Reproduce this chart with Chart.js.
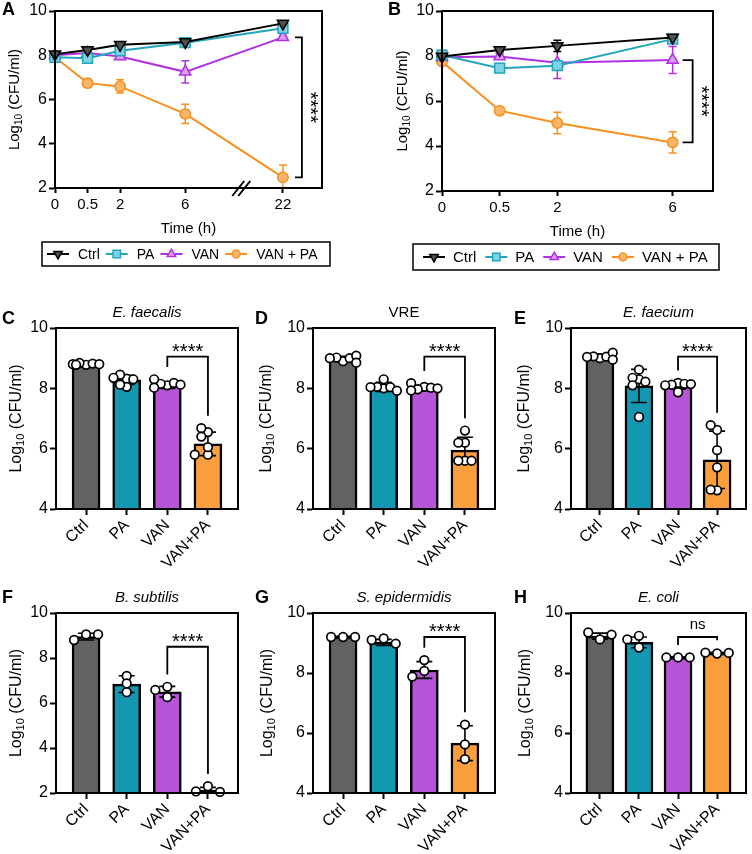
<!DOCTYPE html>
<html>
<head>
<meta charset="utf-8">
<script src="https://cdn.jsdelivr.net/npm/chart.js@4.4.1/dist/chart.umd.min.js"></script>
<style>
html, body { margin: 0; padding: 0; background: #fff; }
#wrap { position: relative; width: 752px; height: 854px; overflow: hidden; }
#wrap canvas { position: absolute; left: 0; top: 0; }
</style>
</head>
<body>
<div id="wrap"></div>
<script>
// ---- time-kill curves ----
const seriesNames = ['Ctrl', 'PA', 'VAN', 'VAN + PA'];

const timeLabelsA = ['0', '0.5', '2', '6', '22'];
const timeSlotsA = [0, 1, 2, 4, 7];   // order on the broken time axis
const ctrlA = [8.05, 8.24, 8.47, 8.6, 9.44];
const paA   = [7.91, 7.86, 8.2, 8.57, 9.22];
const vanA  = [8.0, 8.1, 7.94, 7.25, 8.81];
const vpA   = [7.91, 6.74, 6.59, 5.35, 2.48];
const ctrlAErr = [0.05, 0.08, 0.08, 0.06, 0.08];
const paAErr   = [0.06, 0.08, 0.1, 0.06, 0.08];
const vanAErr  = [0.05, 0.05, 0.12, 0.5, 0.08];
const vpAErr   = [0.06, 0.2, 0.3, 0.44, 0.56];

const timeLabelsB = ['0', '0.5', '2', '6'];
const timeSlotsB = [0, 1, 2, 4];
const ctrlB = [7.98, 8.27, 8.45, 8.82];
const paB   = [8.04, 7.46, 7.57, 8.75];
const vanB  = [7.94, 7.98, 7.7, 7.82];
const vpB   = [7.75, 5.57, 5.02, 4.16];
const ctrlBErr = [0.1, 0.08, 0.25, 0.06];
const paBErr   = [0.2, 0.06, 0.12, 0.08];
const vanBErr  = [0.1, 0.12, 0.7, 0.6];
const vpBErr   = [0.1, 0.12, 0.48, 0.47];

// ---- bar panels: mean, SD and replicate values ----
const groups = ['Ctrl', 'PA', 'VAN', 'VAN+PA'];

const cMeans = [8.8, 8.28, 8.1, 6.16];
const cSd = [0.03, 0.15, 0.1, 0.39];
const cPts = [[8.78, 8.84, 8.82, 8.8, 8.8, 8.78], [8.32, 8.45, 8.05, 8.3, 8.12, 8.35],
              [8.1, 8.15, 8.18, 8.3, 8.12, 8.02], [6.55, 5.8, 6.68, 6.4, 6.05, 5.8]];

const dMeans = [8.98, 8.05, 8.0, 5.95];
const dSd = [0.08, 0.15, 0.09, 0.43];
const dPts = [[8.9, 9.02, 9.0, 9.0, 9.08, 8.85], [8.0, 8.05, 8.3, 8.04, 8.04, 7.92],
              [8.05, 7.97, 8.02, 8.17, 8.0, 7.93], [5.6, 6.2, 6.6, 5.6, 6.2, 5.6]];

const eMeans = [9.05, 8.08, 8.07, 5.63];
const eSd = [0.09, 0.55, 0.1, 0.95];
const ePts = [[9.0, 9.06, 9.05, 9.04, 9.18, 8.95], [8.3, 8.62, 8.35, 7.05, 8.1, 8.22],
              [8.18, 8.12, 8.15, 7.87, 8.1, 8.14], [6.62, 4.62, 5.95, 5.38, 6.78, 4.64]];

const fMeans = [8.95, 6.84, 6.5, 2.13];
const fSd = [0.15, 0.37, 0.24, 0.12];
const fPts = [[9.05, 8.8, 9.05], [7.2, 6.87, 6.48], [6.72, 6.58, 6.26], [2.3, 2.07, 2.05]];

const gMeans = [9.2, 9.02, 8.1, 5.66];
const gSd = [0.02, 0.1, 0.28, 0.58];
const gPts = [[9.2, 9.2, 9.2], [9.15, 9.1, 8.98], [8.43, 8.07, 7.88], [6.28, 5.62, 5.13]];

const hMeans = [9.23, 9.02, 8.52, 8.66];
const hSd = [0.1, 0.18, 0.02, 0.02];
const hPts = [[9.12, 9.35, 9.28], [9.24, 8.85, 9.12], [8.52, 8.52, 8.52], [8.65, 8.68, 8.67]];

// ---- styles ----
const FONT = '"Liberation Sans", Arial, Helvetica, sans-serif';
Chart.defaults.font.family = FONT;
Chart.defaults.color = '#000';

const lineStyle = [
  { line: '#000000', fill: '#505050', shape: 'triangle', rot: 180, r: 6.5 },
  { line: '#22a6bd', fill: '#7fd2e1', shape: 'rect', rot: 0, r: 7 },
  { line: '#b231e2', fill: '#d9a0f2', shape: 'triangle', rot: 0, r: 6.5 },
  { line: '#f7901e', fill: '#fbb56b', shape: 'circle', rot: 0, r: 5.2 }
];
const barFill = ['#626262', '#1497b0', '#b655d8', '#fb9e3d'];

const wrap = document.getElementById('wrap');
function addCanvas() {
  const c = document.createElement('canvas');
  c.width = 752; c.height = 854;
  wrap.appendChild(c);
  return c;
}

function text(ctx, s, x, y, font, align) {
  ctx.font = font;
  ctx.fillStyle = '#000';
  ctx.textAlign = align || 'center';
  ctx.textBaseline = 'alphabetic';
  ctx.fillText(s, x, y);
}

// "Log10 (CFU/ml)" rotated, with subscript
function yTitle(ctx, x, y, size) {
  ctx.save();
  ctx.translate(x, y);
  ctx.rotate(-Math.PI / 2);
  ctx.fillStyle = '#000';
  ctx.textBaseline = 'middle';
  ctx.textAlign = 'left';
  const big = size + 'px ' + FONT, small = Math.round(size * 0.68) + 'px ' + FONT;
  const parts = [['Log', big, 0], ['10', small, size * 0.25], [' (CFU/ml)', big, 0]];
  let total = 0;
  parts.forEach(p => { ctx.font = p[1]; total += ctx.measureText(p[0]).width; });
  let cx = -total / 2;
  parts.forEach(p => {
    ctx.font = p[1];
    ctx.fillText(p[0], cx, p[2]);
    cx += ctx.measureText(p[0]).width;
  });
  ctx.restore();
}

function marker(ctx, shape, x, y, r, rot) {
  ctx.beginPath();
  if (shape === 'circle') {
    ctx.arc(x, y, r, 0, Math.PI * 2);
  } else if (shape === 'rect') {
    const s = r * Math.SQRT1_2;
    ctx.rect(x - s, y - s, 2 * s, 2 * s);
  } else {
    const a = rot * Math.PI / 180;
    for (let k = 0; k < 3; k++) {
      const t = a + k * 2 * Math.PI / 3;
      const px = x + Math.sin(t) * r, py = y - Math.cos(t) * r;
      if (k) ctx.lineTo(px, py); else ctx.moveTo(px, py);
    }
    ctx.closePath();
  }
  ctx.fill();
  ctx.stroke();
}

function frame(ch) {
  const a = ch.chartArea, ctx = ch.ctx;
  ctx.save();
  ctx.strokeStyle = '#000';
  ctx.lineWidth = 2;
  ctx.strokeRect(a.left, a.top, a.right - a.left, a.bottom - a.top);
  ctx.restore();
}

function yAxis(min, size) {
  return {
    type: 'linear', min: min, max: 10,
    ticks: { stepSize: 2, font: { size: size }, color: '#000', padding: 2 },
    grid: { display: true, drawOnChartArea: false, tickLength: 6, tickWidth: 2, tickColor: '#000' },
    border: { display: true, color: '#000', width: 2 },
    afterFit: s => { s.width = 44; s.paddingTop = 0; s.paddingBottom = 0; }
  };
}

// ---- line panels (A, B) ----
function linePanel(p) {
  const cv = addCanvas();
  const datasets = p.series.map((vals, i) => ({
    label: seriesNames[i],
    data: vals.map((v, j) => ({ x: p.slots[j], y: v })),
    err: p.errs[i],
    borderColor: lineStyle[i].line,
    backgroundColor: lineStyle[i].fill,
    pointBackgroundColor: lineStyle[i].fill,
    pointBorderColor: lineStyle[i].line,
    pointStyle: lineStyle[i].shape,
    rotation: lineStyle[i].rot,
    pointRadius: lineStyle[i].r,
    pointBorderWidth: 1.5,
    borderWidth: 2,
    tension: 0,
    clip: false
  }));
  const a = p.area;
  new Chart(cv, {
    type: 'line',
    data: { datasets: datasets },
    options: {
      responsive: false, animation: false, events: [],
      layout: { padding: { left: a.l - 44, top: a.t, right: 752 - a.r, bottom: 854 - a.b - 50 } },
      plugins: { legend: { display: false }, tooltip: { enabled: false } },
      scales: {
        x: {
          type: 'linear', min: 0, max: p.xMax,
          afterBuildTicks: s => { s.ticks = p.slots.map(v => ({ value: v })); },
          ticks: { callback: (v, i) => p.labels[i], font: { size: 15 }, color: '#000', padding: 3, autoSkip: false, maxRotation: 0 },
          grid: { display: true, drawOnChartArea: false, tickLength: 5, tickWidth: 2, tickColor: '#000' },
          border: { display: true, color: '#000', width: 2 },
          afterFit: s => { s.height = 50; s.paddingLeft = 0; s.paddingRight = 0; }
        },
        y: yAxis(2, 16)
      }
    },
    plugins: [{
      id: 'deco',
      beforeDatasetsDraw(ch) {
        const ctx = ch.ctx, ys = ch.scales.y, xs = ch.scales.x, ca = ch.chartArea;
        ctx.save();
        ctx.beginPath();
        ctx.rect(ca.left - 10, ca.top, ca.right - ca.left + 20, ca.bottom - ca.top);
        ctx.clip();
        ch.data.datasets.forEach(ds => {
          ctx.strokeStyle = ds.borderColor;
          ctx.lineWidth = 1.5;
          ds.data.forEach((pt, j) => {
            const x = xs.getPixelForValue(pt.x);
            const y1 = ys.getPixelForValue(pt.y + ds.err[j]), y2 = ys.getPixelForValue(pt.y - ds.err[j]);
            ctx.beginPath();
            ctx.moveTo(x, y1); ctx.lineTo(x, y2);
            ctx.moveTo(x - 4, y1); ctx.lineTo(x + 4, y1);
            ctx.moveTo(x - 4, y2); ctx.lineTo(x + 4, y2);
            ctx.stroke();
          });
        });
        ctx.restore();
      },
      afterDraw(ch) {
        const ctx = ch.ctx, ca = ch.chartArea, xs = ch.scales.x, ys = ch.scales.y;
        frame(ch);
        ctx.save();
        text(ctx, p.letter, p.lx, p.ly, 'bold 18px ' + FONT, 'left');
        yTitle(ctx, p.yTitleX, (ca.top + ca.bottom) / 2, 15);
        text(ctx, 'Time (h)', (ca.left + ca.right) / 2, ca.bottom + 45, '15px ' + FONT);

        // axis break
        if (p.breakAt) {
          const bx = xs.getPixelForValue(p.breakAt), by = ca.bottom;
          ctx.strokeStyle = '#000'; ctx.lineWidth = 2;
          ctx.beginPath();
          ctx.moveTo(bx - 10, by + 8); ctx.lineTo(bx + 2, by - 7);
          ctx.moveTo(bx - 4, by + 8); ctx.lineTo(bx + 8, by - 7);
          ctx.stroke();
        }

        // significance bracket between VAN and VAN + PA at the last time point
        const last = p.slots.length - 1;
        const bx = xs.getPixelForValue(p.slots[last]) + p.brOff;
        const yTop = ys.getPixelForValue(p.series[2][last]);
        const yBot = ys.getPixelForValue(p.series[3][last]);
        ctx.strokeStyle = '#000'; ctx.lineWidth = 1.8;
        ctx.beginPath();
        ctx.moveTo(bx - p.brArm, yTop); ctx.lineTo(bx, yTop); ctx.lineTo(bx, yBot); ctx.lineTo(bx - p.brArm, yBot);
        ctx.stroke();
        ctx.save();
        ctx.translate(bx + 12, (yTop + yBot) / 2);
        ctx.rotate(Math.PI / 2);
        ctx.font = '20px ' + FONT;
        ctx.fillStyle = '#000';
        ctx.textAlign = 'center';
        ctx.textBaseline = 'middle';
        ctx.fillText('****', 0, 4);
        ctx.restore();

        // legend box
        const L = p.legend;
        ctx.lineWidth = 1.5; ctx.strokeStyle = '#000';
        ctx.strokeRect(L.l, L.t, L.r - L.l, L.b - L.t);
        let x = L.start;
        const ym = (L.t + L.b) / 2;
        ch.data.datasets.forEach((ds, i) => {
          const st = lineStyle[i];
          ctx.strokeStyle = st.line; ctx.lineWidth = 2;
          ctx.beginPath(); ctx.moveTo(x, ym); ctx.lineTo(x + 22, ym); ctx.stroke();
          ctx.fillStyle = st.fill; ctx.lineWidth = 1.5;
          marker(ctx, st.shape, x + 11, ym, st.r * 0.75, st.rot);
          x += 22 + L.gapMT;
          ctx.font = L.size + 'px ' + FONT;
          text(ctx, ds.label, x, ym + L.size * 0.36, L.size + 'px ' + FONT, 'left');
          x += ctx.measureText(ds.label).width + L.gapTM;
        });
        ctx.restore();
      }
    }]
  });
}

// ---- bar panels (C - H) ----
// replicate dots: spread sideways in fixed steps only where they would overlap
function swarm(ch, pts) {
  const xs = ch.scales.x, ys = ch.scales.y;
  const out = [];
  pts.forEach((vals, g) => {
    const step = vals.length <= 3 ? 12 : 6.6;
    const minD = vals.length <= 3 ? 7 : 6.6;
    const cx = xs.getPixelForValue(g);
    const placed = [];
    vals.forEach(v => {
      const py = ys.getPixelForValue(v);
      let best = 0, bestD = -1;
      for (let k = 0; k <= 4; k++) {
        const off = (k % 2 ? -1 : 1) * Math.ceil(k / 2) * step;
        const d = Math.min(99, ...placed.map(q => Math.hypot(cx + off - q.x, py - q.y)));
        if (d >= minD) { best = off; bestD = d; break; }
        if (d > bestD) { bestD = d; best = off; }
      }
      if (bestD < minD && vals.length > 3) {
        // no free slot: tuck between neighbours
        for (let off = -13; off <= 13; off += 1) {
          const d = Math.min(99, ...placed.map(q => Math.hypot(cx + off - q.x, py - q.y)));
          if (d > bestD) { bestD = d; best = off; }
        }
      }
      placed.push({ x: cx + best, y: py });
      out.push({ x: xs.getValueForPixel(cx + best), y: v });
    });
  });
  ch.data.datasets[0].data = out;
  ch.update('none');
}

function barPanel(p) {
  const cv = addCanvas();
  const a = p.area;
  const ch = new Chart(cv, {
    type: 'bar',
    data: {
      datasets: [
        { type: 'scatter', order: 0, data: [], pointRadius: 4.3, pointBackgroundColor: '#fff',
          pointBorderColor: '#000', pointBorderWidth: 1.7, clip: false },
        { type: 'bar', order: 1, data: p.means.map((m, i) => ({ x: i, y: m })), sd: p.sds,
          backgroundColor: barFill, borderColor: '#000', borderWidth: 2.5, borderSkipped: false, barThickness: 28 }
      ]
    },
    options: {
      responsive: false, animation: false, events: [],
      layout: { padding: { left: a.l - 44, top: a.t, right: 752 - a.r, bottom: 854 - a.b - 60 } },
      plugins: { legend: { display: false }, tooltip: { enabled: false } },
      scales: {
        x: {
          type: 'linear', min: -0.74, max: 3.74, offset: false,
          afterBuildTicks: s => { s.ticks = groups.map((g, i) => ({ value: i })); },
          ticks: { callback: (v, i) => groups[i], font: { size: 16 }, color: '#000', padding: 1,
                   autoSkip: false, minRotation: 45, maxRotation: 45 },
          grid: { display: true, offset: false, drawOnChartArea: false, tickLength: 6, tickWidth: 2, tickColor: '#000' },
          border: { display: true, color: '#000', width: 2 },
          afterFit: s => { s.height = 60; s.paddingLeft = 0; s.paddingRight = 0; }
        },
        y: yAxis(p.yMin, 16)
      }
    },
    plugins: [{
      id: 'deco',
      afterDatasetDraw(ch, args) {
        if (args.meta.type !== 'bar') return;
        const ctx = ch.ctx, ys = ch.scales.y;
        const ds = ch.data.datasets[args.index];
        ctx.save();
        ctx.strokeStyle = '#000'; ctx.lineWidth = 1.6;
        args.meta.data.forEach((el, i) => {
          const m = ds.data[i].y, s = ds.sd[i];
          const y1 = ys.getPixelForValue(m + s), y2 = Math.min(ys.getPixelForValue(m - s), ch.chartArea.bottom);
          ctx.beginPath();
          ctx.moveTo(el.x, y1); ctx.lineTo(el.x, y2);
          ctx.moveTo(el.x - 8, y1); ctx.lineTo(el.x + 8, y1);
          if (y2 < ch.chartArea.bottom) { ctx.moveTo(el.x - 8, y2); ctx.lineTo(el.x + 8, y2); }
          ctx.stroke();
        });
        ctx.restore();
      },
      afterDraw(ch) {
        const ctx = ch.ctx, ca = ch.chartArea, xs = ch.scales.x, ys = ch.scales.y;
        frame(ch);
        ctx.save();
        text(ctx, p.letter, p.lx, p.ly, 'bold 18px ' + FONT, 'left');
        text(ctx, p.title, (ca.left + ca.right) / 2, ca.top - 11, (p.italic ? 'italic ' : '') + '15px ' + FONT);
        yTitle(ctx, p.yTitleX, (ca.top + ca.bottom) / 2, 16);

        // bracket VAN vs VAN+PA
        const topOf = g => Math.min(ys.getPixelForValue(p.means[g] + p.sds[g]),
          ...p.pts[g].map(v => ys.getPixelForValue(v) - 4.3)) - 8;
        const xL = xs.getPixelForValue(2), xR = xs.getPixelForValue(3);
        const yLine = ys.getPixelForValue(p.bracket);
        ctx.strokeStyle = '#000'; ctx.lineWidth = 1.8;
        ctx.beginPath();
        ctx.moveTo(xL, topOf(2)); ctx.lineTo(xL, yLine); ctx.lineTo(xR, yLine); ctx.lineTo(xR, topOf(3));
        ctx.stroke();
        if (p.sig === 'ns') text(ctx, 'ns', (xL + xR) / 2, yLine - 8, '15px ' + FONT);
        else text(ctx, p.sig, (xL + xR) / 2, yLine + 1, '20px ' + FONT);
        ctx.restore();
      }
    }]
  });
  swarm(ch, p.pts);
}

linePanel({
  letter: 'A', lx: 2, ly: 15, area: { l: 55, t: 11, r: 322, b: 188 }, xMax: 8.2, yTitleX: 15,
  labels: timeLabelsA, slots: timeSlotsA, breakAt: 5.75, brOff: 19, brArm: 7,
  series: [ctrlA, paA, vanA, vpA], errs: [ctrlAErr, paAErr, vanAErr, vpAErr],
  legend: { l: 42, t: 242, r: 330, b: 266, start: 47, size: 14, gapMT: 9, gapTM: 6 }
});
linePanel({
  letter: 'B', lx: 388, ly: 15, area: { l: 442, t: 11, r: 713, b: 191 }, xMax: 4.7, yTitleX: 403,
  labels: timeLabelsB, slots: timeSlotsB, breakAt: null, brOff: 20, brArm: 10,
  series: [ctrlB, paB, vanB, vpB], errs: [ctrlBErr, paBErr, vanBErr, vpBErr],
  legend: { l: 413, t: 244, r: 719, b: 270, start: 423, size: 15, gapMT: 8, gapTM: 9 }
});

barPanel({ letter: 'C', lx: 2, ly: 324, area: { l: 56, t: 328, r: 238, b: 509 }, yMin: 4, yTitleX: 17,
  title: 'E. faecalis', italic: true, means: cMeans, sds: cSd, pts: cPts, bracket: 9.05, sig: '****' });
barPanel({ letter: 'D', lx: 255, ly: 324, area: { l: 313, t: 328, r: 495, b: 509 }, yMin: 4, yTitleX: 267,
  title: 'VRE', italic: false, means: dMeans, sds: dSd, pts: dPts, bracket: 9.05, sig: '****' });
barPanel({ letter: 'E', lx: 514, ly: 324, area: { l: 571, t: 328, r: 751, b: 509 }, yMin: 4, yTitleX: 525,
  title: 'E. faecium', italic: true, means: eMeans, sds: eSd, pts: ePts, bracket: 9.05, sig: '****' });
barPanel({ letter: 'F', lx: 2, ly: 603, area: { l: 56, t: 613, r: 238, b: 793 }, yMin: 2, yTitleX: 17,
  title: 'B. subtilis', italic: true, means: fMeans, sds: fSd, pts: fPts, bracket: 8.5, sig: '****' });
barPanel({ letter: 'G', lx: 255, ly: 603, area: { l: 313, t: 613, r: 495, b: 793 }, yMin: 4, yTitleX: 268,
  title: 'S. epidermidis', italic: true, means: gMeans, sds: gSd, pts: gPts, bracket: 9.2, sig: '****' });
barPanel({ letter: 'H', lx: 514, ly: 603, area: { l: 571, t: 613, r: 751, b: 793 }, yMin: 4, yTitleX: 526,
  title: 'E. coli', italic: true, means: hMeans, sds: hSd, pts: hPts, bracket: 9.2, sig: 'ns' });
</script>
</body>
</html>
